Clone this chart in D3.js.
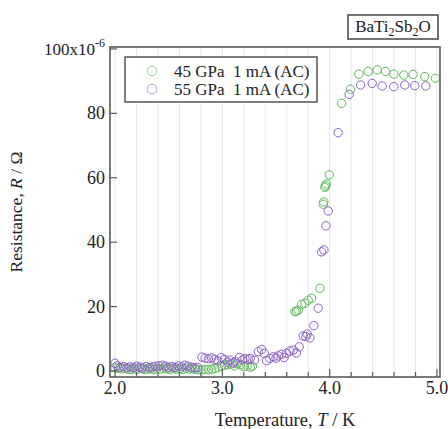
<!DOCTYPE html>
<html>
<head>
<meta charset="utf-8">
<script src="https://cdn.jsdelivr.net/npm/d3@7"></script>
<style>
  html, body { margin: 0; padding: 0; background: #fff; }
  svg { display: block; font-family: "Liberation Serif", "DejaVu Serif", serif; }
</style>
</head>
<body>
<svg id="fig" width="448" height="429"></svg>
<script>
// R(T) of BaTi2Sb2O under pressure (R in µΩ, T in K)
const t45 = [2.00, 2.03, 2.06, 2.09, 2.12, 2.15, 2.18, 2.21, 2.24, 2.27, 2.30, 2.33, 2.36, 2.39, 2.42, 2.45,
  2.48, 2.51, 2.54, 2.57, 2.60, 2.63, 2.66, 2.69, 2.72, 2.75, 2.78, 2.81, 2.84, 2.87, 2.90, 2.93, 2.96, 2.99,
  3.02, 3.05, 3.08, 3.11, 3.14, 3.17, 3.20, 3.23, 3.26, 3.28,
  3.676, 3.69, 3.707, 3.738, 3.769, 3.80, 3.831, 3.909, 3.94, 3.945, 3.955, 3.962, 3.971, 3.996,
  4.111, 4.195, 4.272, 4.359, 4.443, 4.520, 4.598, 4.691, 4.777, 4.886, 4.986];
const r45 = [1.0, 0.9, 0.7, 0.8, 0.6, 0.5, 0.7, 0.6, 0.8, 0.5, 0.6, 0.7, 0.5, 0.8, 0.6, 0.9,
  0.7, 0.5, 0.8, 0.6, 0.7, 0.5, 0.9, 0.6, 0.8, 0.5, 0.4, 0.3, 0.5, 0.4, 0.6, 0.8, 1.1, 1.5,
  1.8, 2.0, 2.2, 1.6, 2.3, 1.9, 1.4, 1.6, 1.2, 1.5,
  18.4, 18.6, 18.9, 20.7, 21.0, 22.0, 22.6, 25.7, 51.8, 52.5, 57.0, 57.5, 58.1, 60.9,
  83.1, 87.5, 92.2, 93.0, 93.5, 93.0, 92.2, 91.9, 92.1, 91.4, 90.9];

const t55 = [2.00, 2.02, 2.05, 2.08, 2.11, 2.14, 2.17, 2.20, 2.23, 2.26, 2.29, 2.32, 2.35, 2.38, 2.41, 2.44,
  2.47, 2.50, 2.53, 2.56, 2.59, 2.62, 2.65, 2.68, 2.71, 2.74, 2.77,
  2.81, 2.84, 2.87, 2.90, 2.93, 2.96, 2.99, 3.02, 3.05, 3.07, 3.10, 3.12, 3.16, 3.19, 3.21, 3.24, 3.26, 3.30,
  3.335, 3.366, 3.39, 3.412, 3.443, 3.474, 3.50, 3.521, 3.552, 3.575, 3.598, 3.629, 3.66, 3.69, 3.716,
  3.753, 3.778, 3.79, 3.816, 3.853, 3.893, 3.924, 3.946, 3.965, 3.986,
  4.079, 4.182, 4.288, 4.396, 4.489, 4.598, 4.700, 4.793, 4.896];
const r55 = [2.4, 1.6, 1.2, 1.4, 1.0, 1.3, 1.1, 1.5, 1.2, 1.0, 1.4, 1.1, 1.3, 1.5, 1.6, 1.8,
  1.5, 1.2, 1.4, 1.1, 1.6, 1.3, 1.8, 1.5, 1.2, 1.0, 1.1,
  4.3, 4.0, 3.8, 4.1, 3.6, 3.2, 4.2, 3.6, 2.8, 3.4, 2.5, 2.9, 4.2, 3.5, 3.9, 3.6, 3.9, 3.4,
  6.0, 6.7, 5.5, 3.2, 3.9, 4.4, 4.0, 4.7, 5.2, 4.2, 5.5, 6.2, 6.5, 5.6, 7.5,
  10.9, 10.7, 11.5, 10.3, 14.1, 19.5, 37.0, 37.6, 45.1, 49.7,
  74.0, 85.9, 88.8, 89.3, 88.5, 88.3, 88.8, 88.6, 88.5];

const series = [
  { label: '45 GPa  1 mA (AC)', t: t45, r: r45, color: '#5cb955' },
  { label: '55 GPa  1 mA (AC)', t: t55, r: r55, color: '#8c60c6' }
];
const xTicksMajor = [2, 3, 4, 5];
const yTicks = [0, 20, 40, 60, 80, 100];

(function () {
  const svg = d3.select('#fig');
  const left = 110, right = 440, plotTop = 47, plotBottom = 377;

  const x = d3.scaleLinear().domain([1.953, 5.028]).range([left, right]);
  const y = d3.scaleLinear().domain([-1.85, 100.6]).range([plotBottom, plotTop]);

  // faint vertical grid every 0.2 K
  const minor = d3.range(2.0, 5.001, 0.2);
  svg.append('g').selectAll('line').data(minor).join('line')
    .attr('x1', d => x(d)).attr('x2', d => x(d))
    .attr('y1', plotTop).attr('y2', plotBottom)
    .attr('stroke', '#e6e6f2').attr('stroke-width', 1);

  // points
  series.forEach(s => {
    svg.append('g').selectAll('circle').data(s.t).join('circle')
      .attr('cx', d => x(d)).attr('cy', (d, i) => y(s.r[i])).attr('r', 4.2)
      .attr('fill', 'none').attr('stroke', s.color).attr('stroke-width', 1);
  });

  // frame
  svg.append('rect').attr('x', left).attr('y', plotTop)
    .attr('width', right - left).attr('height', plotBottom - plotTop)
    .attr('fill', 'none').attr('stroke', '#5a5a5a').attr('stroke-width', 1.6);

  // ticks (inside)
  svg.append('g').selectAll('line').data(minor).join('line')
    .attr('x1', d => x(d)).attr('x2', d => x(d))
    .attr('y1', plotBottom).attr('y2', d => plotBottom - (Math.abs(d - Math.round(d)) < 1e-6 ? 8 : 5))
    .attr('stroke', '#5a5a5a').attr('stroke-width', 1.2);
  svg.append('g').selectAll('line').data(yTicks).join('line')
    .attr('x1', left).attr('x2', left + 7)
    .attr('y1', d => y(d)).attr('y2', d => y(d))
    .attr('stroke', '#5a5a5a').attr('stroke-width', 1.2);

  // tick labels
  svg.append('g').selectAll('text').data(xTicksMajor).join('text')
    .attr('x', d => x(d)).attr('y', 394)
    .attr('text-anchor', 'middle').attr('font-size', 18).attr('fill', '#222')
    .text(d => d3.format('.1f')(d));
  svg.append('g').selectAll('text').data(yTicks.filter(d => d < 100)).join('text')
    .attr('x', 105).attr('y', d => y(d) + 6)
    .attr('text-anchor', 'end').attr('font-size', 18).attr('fill', '#222')
    .text(d => d);
  const top100 = svg.append('text').attr('x', 105).attr('y', y(100) + 6)
    .attr('text-anchor', 'end').attr('font-size', 17).attr('fill', '#222');
  top100.append('tspan').text('100x10');
  top100.append('tspan').attr('dy', -8).attr('font-size', 12).text('-6');

  // axis titles
  const xt = svg.append('text').attr('x', 285).attr('y', 426)
    .attr('text-anchor', 'middle').attr('font-size', 18.5).attr('fill', '#222');
  xt.append('tspan').text('Temperature, ');
  xt.append('tspan').attr('font-style', 'italic').text('T');
  xt.append('tspan').text(' / K');
  const yt = svg.append('text').attr('transform', 'translate(22,' + ((plotTop + plotBottom) / 2) + ') rotate(-90)')
    .attr('text-anchor', 'middle').attr('font-size', 17.5).attr('fill', '#222');
  yt.append('tspan').text('Resistance, ');
  yt.append('tspan').attr('font-style', 'italic').text('R');
  yt.append('tspan').text(' / Ω');

  // legend
  const lg = svg.append('g');
  lg.append('rect').attr('x', 125).attr('y', 57).attr('width', 192).attr('height', 45)
    .attr('fill', '#fff').attr('stroke', '#555').attr('stroke-width', 1.5);
  series.forEach((s, i) => {
    const cy = 71 + i * 18;
    lg.append('circle').attr('cx', 152).attr('cy', cy).attr('r', 4.8)
      .attr('fill', 'none').attr('stroke', s.color).attr('stroke-opacity', 0.6).attr('stroke-width', 1);
    lg.append('text').attr('x', 174).attr('y', cy + 5.5).attr('font-size', 17).attr('fill', '#222')
      .attr('xml:space', 'preserve').style('white-space', 'pre').text(s.label);
  });

  // compound label
  const cb = svg.append('g');
  cb.append('rect').attr('x', 348).attr('y', 15).attr('width', 90).attr('height', 24)
    .attr('fill', '#fff').attr('stroke', '#444').attr('stroke-width', 1.5);
  const ct = cb.append('text').attr('x', 393).attr('y', 32).attr('text-anchor', 'middle')
    .attr('font-size', 17).attr('fill', '#222');
  [['BaTi', 0], ['2', 1], ['Sb', 0], ['2', 1], ['O', 0]].forEach(([s, sub], i, arr) => {
    const prevSub = i > 0 && arr[i - 1][1];
    ct.append('tspan').attr('dy', sub ? 4 : (prevSub ? -4 : 0))
      .attr('font-size', sub ? 12 : 17).text(s);
  });
})();
</script>
</body>
</html>
